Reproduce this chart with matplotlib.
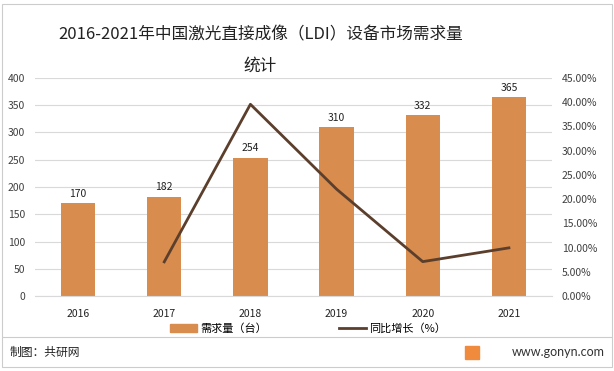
import numpy as np
import matplotlib
matplotlib.use("Agg")
import matplotlib.pyplot as plt
from matplotlib.patches import Rectangle
from matplotlib.lines import Line2D

plt.rcParams['font.family'] = ['Noto Sans CJK SC', 'DejaVu Sans']

# data
years = ['2016', '2017', '2018', '2019', '2020', '2021']
demand = [170, 182, 254, 310, 332, 365]
growth = [None, 7.06, 39.56, 22.05, 7.10, 9.94]  # %

bar_color = '#D88C4E'
line_color = '#5B3F2C'
grid_color = '#D9D9D9'
text_color = '#404040'

fig = plt.figure(figsize=(6.14, 3.71), dpi=100)
ax = fig.add_axes([0.057, 0.202, 0.842, 0.588])
ax2 = ax.twinx()

x = np.arange(len(years))
bars = ax.bar(x, demand, width=0.4, color=bar_color, zorder=2)
for xi, v in zip(x, demand):
    ax.text(xi, v + 8, str(v), ha='center', va='bottom', fontsize=7.5, color='#222222')

ax.set_ylim(0, 400)
ax.set_yticks(np.arange(0, 401, 50))
ax.set_xlim(-0.5, len(years) - 0.5)
ax.set_xticks(x)
ax.set_xticklabels(years, fontsize=7.5, color='#222222')
ax.grid(axis='y', color=grid_color, linewidth=0.8, zorder=0)
ax.set_axisbelow(True)

gx = [xi for xi, g in zip(x, growth) if g is not None]
gy = [g for g in growth if g is not None]
ax2.plot(gx, gy, color=line_color, linewidth=2.0, zorder=3)
ax2.set_ylim(0, 45)
ax2.set_yticks(np.arange(0, 46, 5))
ax2.set_yticklabels([f'{v:.2f}%' for v in np.arange(0, 46, 5)])

for a in (ax, ax2):
    for s in a.spines.values():
        s.set_visible(False)
    a.tick_params(length=0, labelsize=7.5, labelcolor=text_color, pad=7)
ax.tick_params(axis='x', pad=9, labelcolor='#222222')
ax.spines['bottom'].set_visible(True)
ax.spines['bottom'].set_color(grid_color)

fig.text(0.424, 0.905, '2016-2021年中国激光直接成像（LDI）设备市场需求量',
         ha='center', va='center', fontsize=12, color='#222222')
fig.text(0.424, 0.822, '统计', ha='center', va='center', fontsize=12, color='#222222')

handles = [Rectangle((0, 0), 1, 1, color=bar_color),
           Line2D([0], [0], color=line_color, linewidth=2.0)]
fig.legend(handles, ['需求量（台）', '同比增长（%）'], loc='center',
           bbox_to_anchor=(0.502, 0.115), ncol=2, frameon=False, fontsize=8,
           handlelength=2.4, handletextpad=0.3, columnspacing=6.5)

# footer
fig.add_artist(Line2D([0.005, 0.995], [0.092, 0.092], color='#CCCCCC', linewidth=0.8))
fig.text(0.015, 0.05, '制图：共研网', ha='left', va='center', fontsize=8.5, color='#222222')
fig.text(0.985, 0.05, 'www.gonyn.com', ha='right', va='center', fontsize=9, color='#333333',
         family=['Lato', 'DejaVu Sans'])
fig.add_artist(Rectangle((0.758, 0.033), 0.022, 0.035, color='#F08A3C', transform=fig.transFigure))
fig.add_artist(Rectangle((0.004, 0.012), 0.992, 0.976, fill=False, edgecolor='#CCCCCC',
                         linewidth=0.8, transform=fig.transFigure))

fig.savefig('out.png', dpi=100)
